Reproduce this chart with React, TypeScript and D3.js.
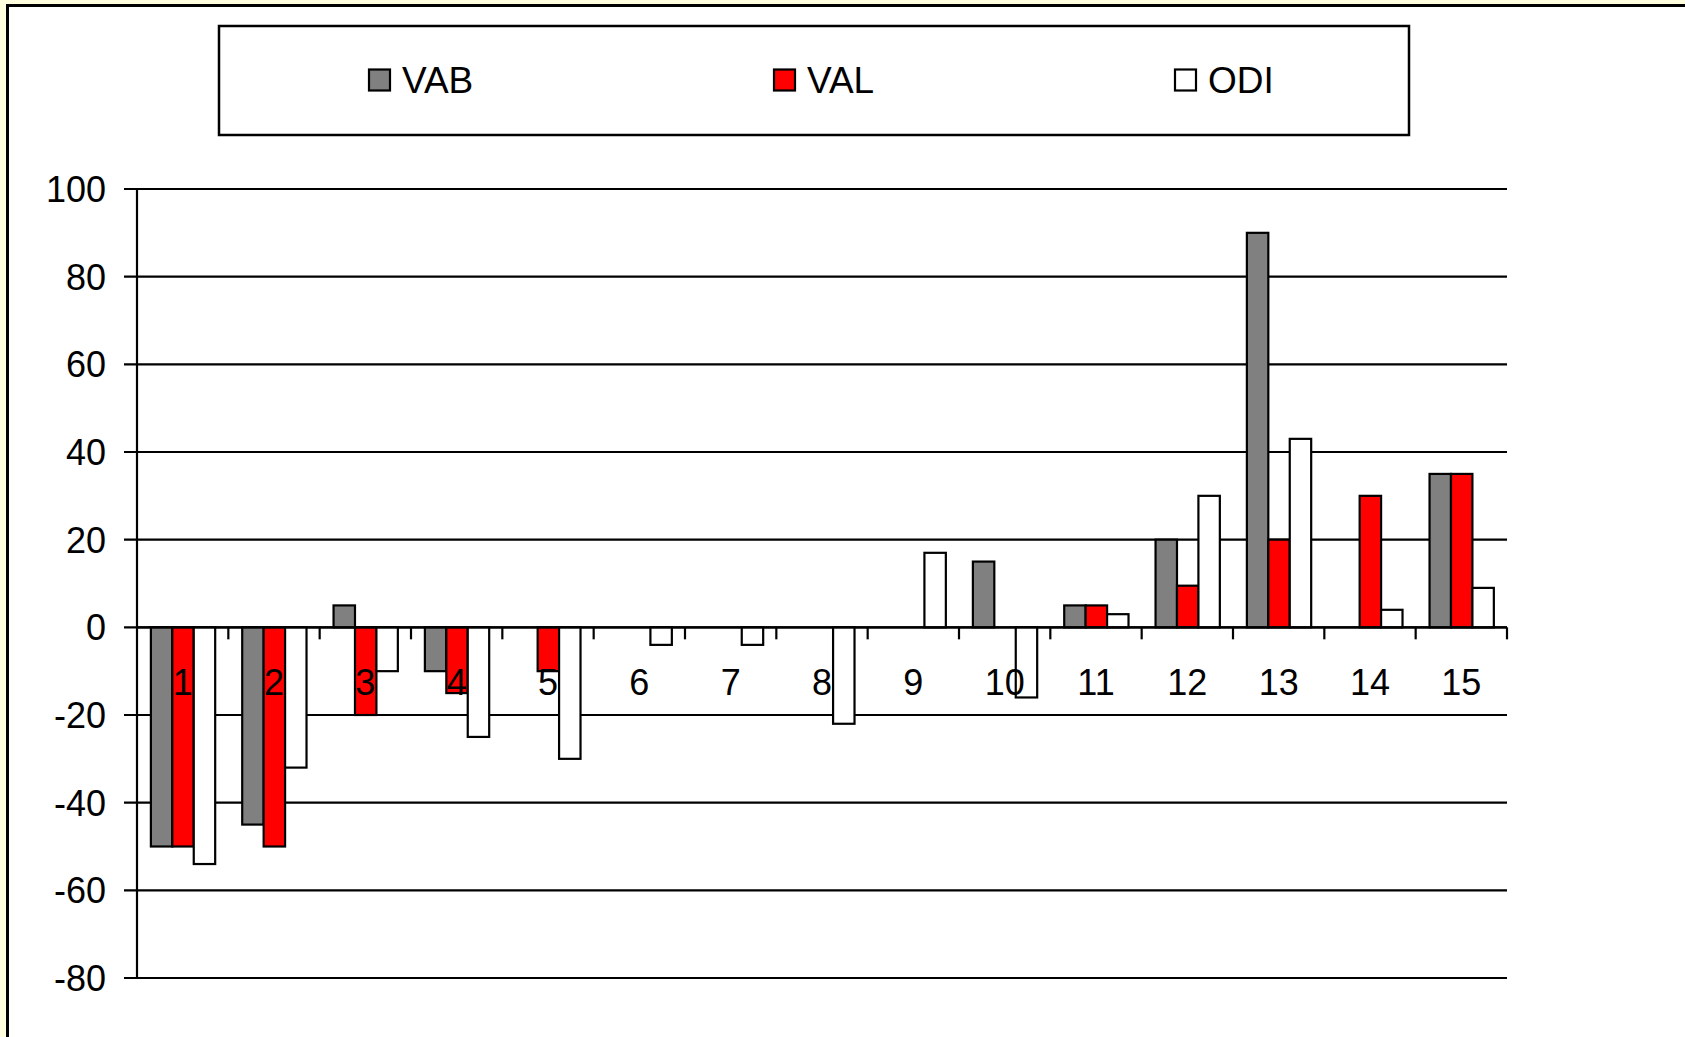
import React from "react";
import * as d3 from "d3";

const categories = ["1","2","3","4","5","6","7","8","9","10","11","12","13","14","15"];
const seriesNames = ["VAB", "VAL", "ODI"];
const vabValues = [-50, -45, 5, -10, 0, 0, 0, 0, 0, 15, 5, 20, 90, 0, 35];
const valValues = [-50, -50, -20, -15, -10, 0, 0, 0, 0, 0, 5, 9.5, 20, 30, 35];
const odiValues = [-54, -32, -10, -25, -30, -4, -4, -22, 17, -16, 3, 30, 43, 4, 9];
const yTicks = [-80, -60, -40, -20, 0, 20, 40, 60, 80, 100];
const seriesColors = ["#808080", "#FF0000", "#FFFFFF"];

const W = 1685;
const H = 1037;
const FONT = "'Liberation Sans', Arial, Helvetica, sans-serif";

export default function App() {
  const plotLeft = 137;
  const plotRight = 1507;
  const x = d3.scaleBand<string>().domain(categories).range([plotLeft, plotRight]).paddingInner(0).paddingOuter(0);
  const bw = x.bandwidth();
  const xSub = d3.scaleBand<string>().domain(seriesNames).range([bw * 0.152, bw * 0.856]).padding(0);
  const y = d3.scaleLinear().domain([-80, 100]).range([978, 189]);
  const allValues = [vabValues, valValues, odiValues];
  const y0 = y(0);

  const bars: React.ReactNode[] = [];
  categories.forEach((c, i) => {
    seriesNames.forEach((s, si) => {
      const v = allValues[si][i];
      if (v === 0) return;
      const bx = (x(c) as number) + (xSub(s) as number);
      const top = Math.min(y(v), y0);
      const h = Math.abs(y(v) - y0);
      bars.push(
        <rect key={c + s} x={bx} y={top} width={xSub.bandwidth()} height={h}
          fill={seriesColors[si]} stroke="#000" strokeWidth={2.2} />
      );
    });
  });

  const legendX = [369, 774, 1175];

  return (
    <svg width={W} height={H} style={{ position: "absolute", left: 0, top: 0, display: "block" }}
      fontFamily={FONT}>
      <rect x={0} y={0} width={W} height={H} fill="#FFFFE0" />
      <rect x={7.5} y={5.5} width={W + 20} height={H + 20} fill="#FFFFFF" stroke="#000" strokeWidth={3} />

      {/* legend */}
      <rect x={219} y={26} width={1190} height={109} fill="#fff" stroke="#000" strokeWidth={2.5} />
      {seriesNames.map((s, i) => (
        <g key={s}>
          <rect x={legendX[i]} y={69.5} width={21} height={21} fill={seriesColors[i]} stroke="#000" strokeWidth={2.2} />
          <text x={legendX[i] + 33} y={93} fontSize={37} fill="#000" textLength={undefined}>{s}</text>
        </g>
      ))}

      {/* gridlines */}
      {yTicks.map((t) => (
        <line key={"g" + t} x1={124} x2={plotRight} y1={y(t)} y2={y(t)} stroke="#000" strokeWidth={2.2} />
      ))}
      {/* y labels */}
      {yTicks.map((t) => (
        <text key={"l" + t} x={106} y={y(t)} dy="0.36em" textAnchor="end" fontSize={36} fill="#000">{t}</text>
      ))}
      {/* y axis */}
      <line x1={plotLeft} x2={plotLeft} y1={y(100)} y2={y(-80)} stroke="#000" strokeWidth={2.2} />

      {/* bars */}
      {bars}

      {/* x ticks */}
      {categories.map((c) => (
        <line key={"t" + c} x1={(x(c) as number) + bw} x2={(x(c) as number) + bw} y1={y0} y2={y0 + 12}
          stroke="#000" strokeWidth={2.2} />
      ))}
      {/* x axis */}
      <line x1={plotLeft} x2={plotRight} y1={y0} y2={y0} stroke="#000" strokeWidth={2.2} />

      {/* category labels */}
      {categories.map((c) => (
        <text key={"c" + c} x={(x(c) as number) + bw / 2} y={695} textAnchor="middle" fontSize={36} fill="#000">{c}</text>
      ))}
    </svg>
  );
}
